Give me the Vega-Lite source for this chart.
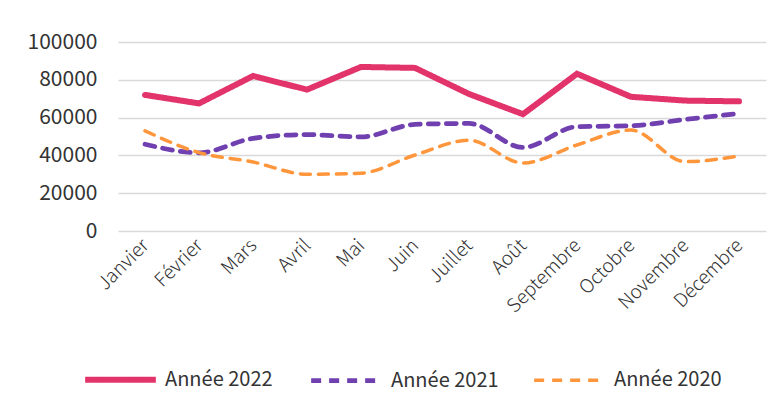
{
  "$schema": "https://vega.github.io/schema/vega-lite/v6.json",
  "autosize": {"type": "none"},
  "width": 648,
  "height": 189,
  "padding": {"left": 118, "top": 42, "right": 16, "bottom": 176},
  "background": "white",
  "config": {
    "font": "Noto Sans CJK JP",
    "view": {"stroke": null},
    "axis": {"labelColor": "#404040", "domain": false, "ticks": false, "title": null}
  },
  "data": {
    "values": [
      {"mois": "Janvier", "serie": "Année 2022", "valeur": 72000},
      {"mois": "Février", "serie": "Année 2022", "valeur": 67500},
      {"mois": "Mars", "serie": "Année 2022", "valeur": 82000},
      {"mois": "Avril", "serie": "Année 2022", "valeur": 74800},
      {"mois": "Mai", "serie": "Année 2022", "valeur": 86800},
      {"mois": "Juin", "serie": "Année 2022", "valeur": 86300},
      {"mois": "Juillet", "serie": "Année 2022", "valeur": 72500},
      {"mois": "Août", "serie": "Année 2022", "valeur": 61800},
      {"mois": "Septembre", "serie": "Année 2022", "valeur": 83200},
      {"mois": "Octobre", "serie": "Année 2022", "valeur": 71000},
      {"mois": "Novembre", "serie": "Année 2022", "valeur": 69000},
      {"mois": "Décembre", "serie": "Année 2022", "valeur": 68600},
      {"mois": "Janvier", "serie": "Année 2021", "valeur": 45900},
      {"mois": "Février", "serie": "Année 2021", "valeur": 41400},
      {"mois": "Mars", "serie": "Année 2021", "valeur": 49000},
      {"mois": "Avril", "serie": "Année 2021", "valeur": 51000},
      {"mois": "Mai", "serie": "Année 2021", "valeur": 49800},
      {"mois": "Juin", "serie": "Année 2021", "valeur": 56400},
      {"mois": "Juillet", "serie": "Année 2021", "valeur": 56900},
      {"mois": "Août", "serie": "Année 2021", "valeur": 44200},
      {"mois": "Septembre", "serie": "Année 2021", "valeur": 55200},
      {"mois": "Octobre", "serie": "Année 2021", "valeur": 55700},
      {"mois": "Novembre", "serie": "Année 2021", "valeur": 59000},
      {"mois": "Décembre", "serie": "Année 2021", "valeur": 62200},
      {"mois": "Janvier", "serie": "Année 2020", "valeur": 53000},
      {"mois": "Février", "serie": "Année 2020", "valeur": 41500},
      {"mois": "Mars", "serie": "Année 2020", "valeur": 36500},
      {"mois": "Avril", "serie": "Année 2020", "valeur": 30000},
      {"mois": "Mai", "serie": "Année 2020", "valeur": 30600},
      {"mois": "Juin", "serie": "Année 2020", "valeur": 40200},
      {"mois": "Juillet", "serie": "Année 2020", "valeur": 48000},
      {"mois": "Août", "serie": "Année 2020", "valeur": 36000},
      {"mois": "Septembre", "serie": "Année 2020", "valeur": 45500},
      {"mois": "Octobre", "serie": "Année 2020", "valeur": 53400},
      {"mois": "Novembre", "serie": "Année 2020", "valeur": 36700},
      {"mois": "Décembre", "serie": "Année 2020", "valeur": 39700}
    ]
  },
  "encoding": {
    "x": {
      "field": "mois",
      "type": "ordinal",
      "sort": ["Janvier", "Février", "Mars", "Avril", "Mai", "Juin", "Juillet", "Août", "Septembre", "Octobre", "Novembre", "Décembre"],
      "axis": {"labelAngle": -45, "labelAlign": "right", "labelBaseline": "middle", "labelFontSize": 19, "labelFontWeight": 300, "labelColor": "#333333", "labelPadding": 11, "grid": false}
    },
    "y": {
      "field": "valeur",
      "type": "quantitative",
      "scale": {"domain": [0, 100000], "nice": false},
      "axis": {"values": [0, 20000, 40000, 60000, 80000, 100000], "labelFontSize": 21, "labelColor": "#333333", "labelPadding": 21, "format": "d", "gridColor": "#d9d9d9", "gridWidth": 1.5}
    },
    "color": {
      "field": "serie",
      "type": "nominal",
      "scale": {"domain": ["Année 2022", "Année 2021", "Année 2020"], "range": ["#e2336b", "#7040b0", "#ff963c"]},
      "legend": {
        "title": null,
        "orient": "none",
        "legendX": -36,
        "legendY": 299,
        "direction": "horizontal",
        "columns": 3,
        "columnPadding": 28,
        "symbolType": "stroke",
        "symbolSize": 5000,
        "labelFontSize": 20,
        "labelColor": "#333333",
        "labelOffset": 6
      }
    },
    "strokeDash": {
      "field": "serie",
      "type": "nominal",
      "scale": {"domain": ["Année 2022", "Année 2021", "Année 2020"], "range": [[1, 0], [10, 8], [10, 8]]},
      "legend": null
    },
    "strokeWidth": {
      "field": "serie",
      "type": "nominal",
      "scale": {"domain": ["Année 2022", "Année 2021", "Année 2020"], "range": [6, 3.5, 3.5]},
      "legend": null
    }
  },
  "layer": [
    {
      "transform": [{"filter": "datum.serie === 'Année 2022'"}],
      "mark": {"type": "line", "strokeCap": "round", "strokeJoin": "miter"}
    },
    {
      "transform": [{"filter": "datum.serie !== 'Année 2022'"}],
      "mark": {"type": "line", "interpolate": "monotone", "strokeCap": "round"}
    }
  ]
}
